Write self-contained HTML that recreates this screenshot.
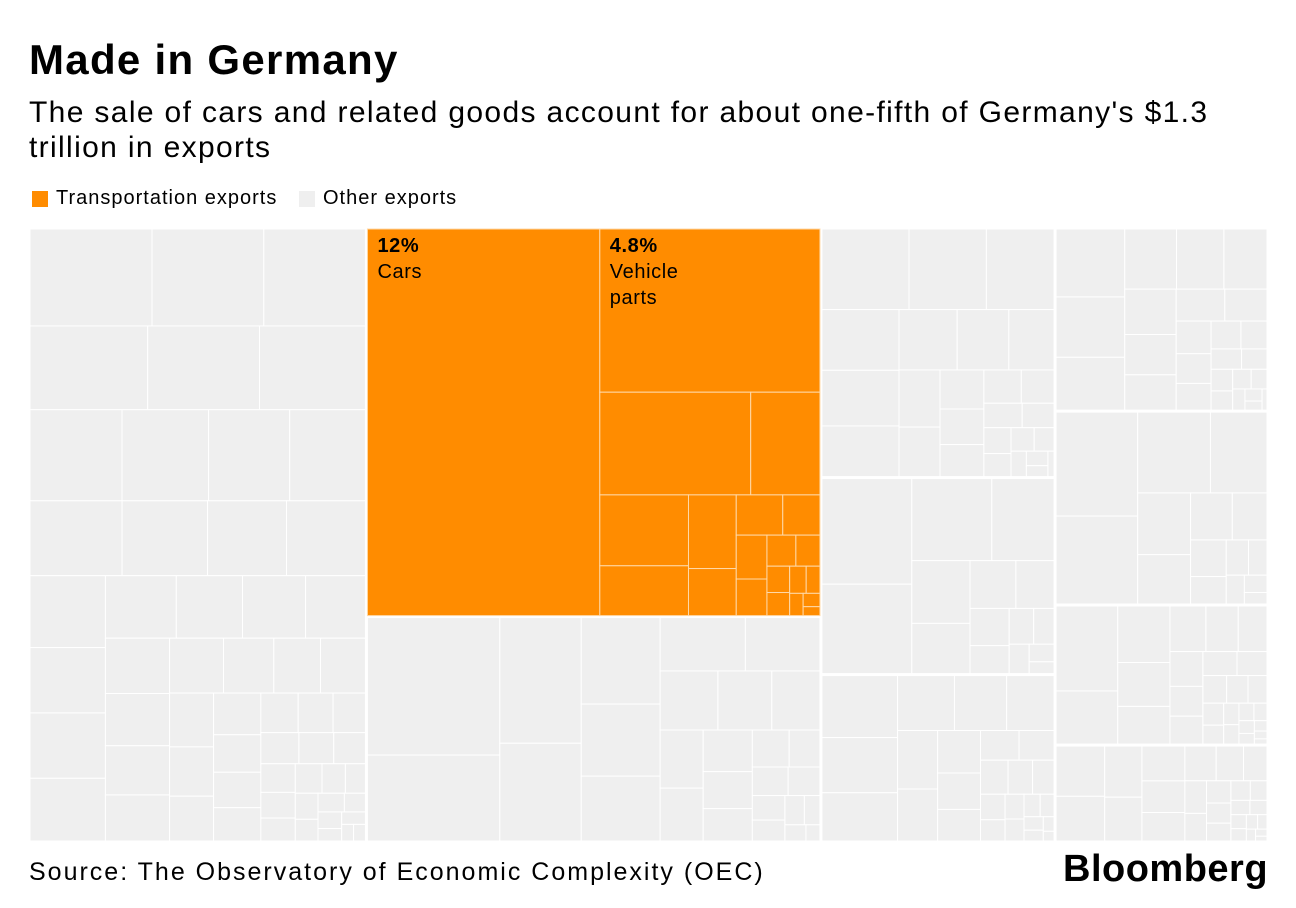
<!DOCTYPE html>
<html><head><meta charset="utf-8">
<style>
body{margin:0;background:#fff;font-family:"Liberation Sans",Arial,sans-serif;color:#000;}
#wrap{position:relative;width:1296px;height:908px;overflow:hidden;}
.t{position:absolute;white-space:nowrap;}
</style></head><body>
<div id="wrap">
<div class="t" style="left:29px;top:36px;font-size:42px;font-weight:bold;letter-spacing:1.3px;">Made in Germany</div>
<div class="t" style="left:29px;top:95px;font-size:30px;line-height:35px;white-space:normal;width:1240px;letter-spacing:1.35px;">The sale of cars and related goods account for about one-fifth of Germany's $1.3 trillion in exports</div>
<div>
<div class="t" style="left:32px;top:191px;width:16px;height:16px;background:#ff8c00;"></div>
<div class="t" style="left:56px;top:187px;font-size:20px;letter-spacing:1px;">Transportation exports</div>
<div class="t" style="left:299px;top:191px;width:16px;height:16px;background:#efefef;"></div>
<div class="t" style="left:323px;top:187px;font-size:20px;letter-spacing:1px;">Other exports</div>
</div>
<svg id="tm" width="1296" height="908" style="position:absolute;left:0;top:0;"></svg>
<div class="t" style="left:29px;top:858px;font-size:25px;letter-spacing:2px;">Source: The Observatory of Economic Complexity (OEC)</div>
<div class="t" style="left:1063px;top:848px;font-size:38px;font-weight:bold;letter-spacing:0.5px;">Bloomberg</div>
</div>
<script>
// Column shares (% of exports) and group shares within columns
const columnShares = [27.1, 36.5, 18.8, 17.1];
const groupShares = [[27.1],[23.1,13.4],[7.6,6.0,5.1],[5.1,5.4,3.9,2.7]];
const groupTransport = [[false],[true,false],[false,false,false],[false,false,false,false]];
const transportItems = [12,4.8,2.07,0.95,0.84,0.59,0.47,0.3,0.25,0.2,0.18,0.15,0.12,0.1,0.08,0.07,0.06,0.05,0.04,0.03,0.02];
const transportLabels = [["12%","Cars"],["4.8%","Vehicle","parts"]];
const otherA = [1.2,1.1,1.0,1.0,0.95,0.9,0.85,0.8,0.75,0.7,0.7,0.65,0.6,0.6,0.55,0.5,0.5,0.48,0.45,0.42,0.4,0.38,0.36,0.34,0.32,0.3,0.3,0.28,0.26,0.25,0.24,0.22,0.2,0.2,0.18,0.17,0.16,0.15,0.14,0.13,0.12,0.11,0.1,0.1,0.09,0.08,0.08,0.07,0.06,0.06,0.05,0.05,0.04,0.04,0.03,0.03,0.02,0.02];
const otherB = [1.6,1.0,0.9,0.7,0.6,0.5,0.45,0.4,0.35,0.3,0.28,0.25,0.22,0.2,0.18,0.16,0.14,0.12,0.1,0.09,0.08,0.07,0.06,0.05,0.04,0.03,0.02];
const otherC = [0.9,0.8,0.7,0.6,0.55,0.5,0.45,0.4,0.35,0.3,0.26,0.22,0.2,0.18,0.16,0.14,0.12,0.1,0.09,0.08,0.07,0.06,0.05,0.04,0.03,0.02];
const otherD = [1.3,1.1,0.9,0.7,0.5,0.4,0.3,0.25,0.2,0.15,0.12,0.1,0.08,0.06,0.04];
const groupItems = [[otherA],[transportItems,otherB],[otherC,otherD,otherC],[otherC,otherD,otherB,otherC]];

const NS="http://www.w3.org/2000/svg";
const svg=document.getElementById('tm');
const X0=30,Y0=229,X1=1267,Y1=841,GAP=2;

function worst(row,w){let s=0,mx=-1e9,mn=1e9;for(const r of row){s+=r;mx=Math.max(mx,r);mn=Math.min(mn,r);}return Math.max(w*w*mx/(s*s),s*s/(w*w*mn));}
function squarify(vals,x,y,w,h){
  const tot=vals.reduce((a,b)=>a+b,0);const areas=vals.map(v=>v*w*h/tot);
  const out=[];let i=0;
  while(i<areas.length){
    const side=Math.min(w,h);let row=[areas[i]];let j=i+1;
    while(j<areas.length && worst(row.concat(areas[j]),side)<=worst(row,side)){row.push(areas[j]);j++;}
    const s=row.reduce((a,b)=>a+b,0);
    if(w>=h){const cw=s/h;let cy=y;for(const a of row){out.push([x,cy,cw,a/cw]);cy+=a/cw;}x+=cw;w-=cw;}
    else{const ch=s/w;let cx=x;for(const a of row){out.push([cx,y,a/ch,ch]);cx+=a/ch;}y+=ch;h-=ch;}
    i=j;
  }
  return out;
}
const colTot=columnShares.reduce((a,b)=>a+b,0);
let cx=X0;
columnShares.forEach((cs,ci)=>{
  const cw=(X1-X0+GAP)*cs/colTot;
  const gTot=groupShares[ci].reduce((a,b)=>a+b,0);
  let gy=Y0;
  groupShares[ci].forEach((gs,gi)=>{
    const gh=(Y1-Y0+GAP)*gs/gTot;
    const isT=groupTransport[ci][gi];
    const rects=squarify(groupItems[ci][gi],cx,gy,cw-GAP,gh-GAP);
    rects.forEach((r,ri)=>{
      const rect=document.createElementNS(NS,'rect');
      rect.setAttribute('x',r[0]);rect.setAttribute('y',r[1]);
      rect.setAttribute('width',Math.max(0,r[2]));rect.setAttribute('height',Math.max(0,r[3]));
      rect.setAttribute('fill',isT?'#ff8c00':'#efefef');
      rect.setAttribute('stroke',isT?'#ffd9a8':'#ffffff');
      rect.setAttribute('stroke-width','1');
      
      
      svg.appendChild(rect);
      if(isT && ri<transportLabels.length){
        transportLabels[ri].forEach((ln,li)=>{
          const t=document.createElementNS(NS,'text');
          t.setAttribute('x',r[0]+10);t.setAttribute('y',r[1]+23+li*26);
          t.setAttribute('font-size','20');t.setAttribute('font-family','Liberation Sans, sans-serif');
          t.setAttribute('letter-spacing','0.6');
          if(li===0)t.setAttribute('font-weight','bold');
          t.textContent=ln;
          
          
          svg.appendChild(t);
        });
      }
    });
    gy+=gh;
  });
  cx+=cw;
});
</script>
</body></html>
